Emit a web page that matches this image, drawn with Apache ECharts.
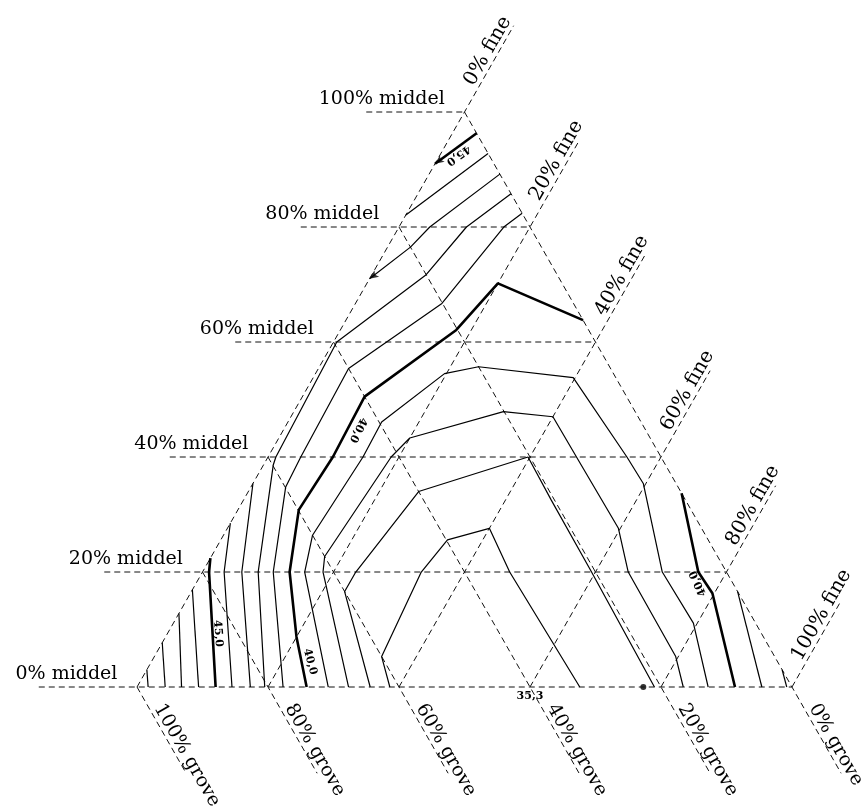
<!DOCTYPE html>
<html>
<head>
<meta charset="utf-8">
<script src="https://cdn.jsdelivr.net/npm/echarts@6/dist/echarts.min.js"></script>
<style>
html, body { margin: 0; padding: 0; background: #fff; }
#chart { width: 865px; height: 810px; }
</style>
</head>
<body>
<div id="chart"></div>
<script>
// ternary diagram grove / middel / fine, every point is [fine %, middel %]
const ticks = [0, 20, 40, 60, 80, 100];

// iso lines (value in the name)
const iso45a = [[0, 91], [3.7, 96.3]];
const iso45b = [[0, 22.4], [1, 20], [12, 0]];
const iso46 = [[0, 16.9], [9.4, 0]];
const iso47 = [[0, 12.8], [6.8, 0]];
const iso48 = [[0, 7.7], [4.3, 0]];
const iso49 = [[0, 3], [1.7, 0]];
const iso44a = [[7.2, 92.8], [0, 82.1]];
const iso44b = [[0, 28.5], [3.3, 20], [14.5, 0]];
const iso43a = [[10.8, 89.2], [4.7, 80], [3.5, 76.5], [0, 71]];
const iso43b = [[0, 35.4], [6, 20], [17.3, 0]];
const iso42a = [[14.2, 85.8], [10.3, 80], [8.3, 71.7], [0.5, 60], [1.2, 40], [1.5, 38.6], [8.5, 20], [19.5, 0]];
const iso42b = [[97, 3], [99.2, 0]];
const iso41a = [[17.6, 82.4], [16, 80], [13.2, 66.7], [4.6, 55.4], [5, 40], [5.3, 34.8], [10.8, 20], [22.3, 0]];
const iso41b = [[83.4, 16.6], [95.4, 0]];
const iso40a = [[36.2, 63.8], [20, 70.2], [17.7, 62.1], [9.5, 50.5], [9.9, 40], [9.3, 30.8], [13.3, 20], [20, 8.7], [25.9, 0]];
const iso40b = [[66.3, 33.7], [75.7, 20], [79.7, 16.3], [91.3, 0]];
const iso39 = [[29.2, 0], [15.6, 20], [13.6, 26.4], [14.5, 40], [14.3, 46.1], [19.7, 54.5], [24.3, 55.7], [39.7, 53.8], [54.8, 40], [59.6, 35.4], [70.2, 20], [79.4, 11.1], [87.2, 0]];
const iso38 = [[32.3, 0], [20, 17.7], [18.4, 20], [17.3, 22.7], [18.8, 40], [20, 43.3], [32, 47.9], [40, 47], [47.1, 40], [59.7, 27.6], [65, 20], [79.6, 5.3], [83.4, 0]];
const iso37 = [[35.6, 0], [23.4, 16.6], [23.4, 20], [26, 34], [39.7, 40], [47, 32.5], [59.4, 20], [79, 0]];
const iso36 = [[38.6, 0], [34.7, 5.3], [33.4, 20], [34.6, 25.6], [40, 27.6], [46.9, 20], [67.6, 0]];

const thinLines = [iso46, iso47, iso48, iso49, iso44a, iso44b, iso43a, iso43b, iso42a, iso42b,
    iso41a, iso41b, iso39, iso38, iso37, iso36];
const thickLines = [iso45a, iso45b, iso40a, iso40b];

// value labels written on the lines
const isoText = ['45,0', '45,0', '40,0', '40,0', '40,0'];
const isoTextAt = [[2.8, 92.5], [7.7, 9.3], [11.4, 44.7], [24.2, 4.4], [76.7, 18]];
const minText = '35,3';
const minAt = [60, 0];
const dotAt = [[77.3, 0]];
const arrowAt = [[0, 91], [0, 71]];

const ext = 15; // grid lines run 15 % past the triangle

function xy(p) {
    return [p[0] + p[1] / 2, p[1]];
}

const chart = echarts.init(document.getElementById('chart'));

const dashed = { color: '#111', width: 1, type: [6, 4] };
const series = [];

function addLine(pts, style) {
    series.push({
        type: 'line',
        data: pts.map(xy),
        showSymbol: false,
        symbol: 'none',
        silent: true,
        animation: false,
        lineStyle: style
    });
}

ticks.forEach(t => {
    addLine([[-ext, t], [100 - t, t]], dashed);              // middel
    addLine([[t, 0], [t, 100 - t + ext]], dashed);           // fine
    addLine([[0, 100 - t], [100 - t + ext, -ext]], dashed);  // grove
});

thinLines.forEach(l => addLine(l, { color: '#000', width: 1.2 }));
thickLines.forEach(l => addLine(l, { color: '#000', width: 2.6 }));

series.push({
    type: 'scatter',
    data: dotAt.map(xy),
    symbolSize: 6,
    itemStyle: { color: '#000' },
    silent: true
});
series.push({
    type: 'scatter',
    data: arrowAt.map(xy),
    symbol: 'arrow',
    symbolSize: [6, 9],
    symbolRotate: 126,
    itemStyle: { color: '#000' },
    silent: true
});

// axis texts
const axisTexts = [];
ticks.forEach(t => {
    axisTexts.push({ text: t + '% middel', at: [-3, t], kind: 'm' });
    axisTexts.push({ text: t + '% fine', at: [t, 104 - t], kind: 'f' });
    axisTexts.push({ text: t + '% grove', at: [104 - t, -4], kind: 'g' });
});

const serif = '"DejaVu Serif", "Liberation Serif", serif';

series.push({
    type: 'custom',
    silent: true,
    data: axisTexts.map(d => xy(d.at)),
    renderItem(params, api) {
        const d = axisTexts[params.dataIndex];
        const p = api.coord([api.value(0), api.value(1)]);
        const a = api.coord([0, 0]), b = api.coord([50, 100]);
        const ang = Math.atan2(a[1] - b[1], b[0] - a[0]);
        let rot = 0, align = 'left', dy = 0;
        if (d.kind === 'm') { align = 'right'; dy = -3; }
        if (d.kind === 'f') rot = ang;
        if (d.kind === 'g') rot = -ang;
        return {
            type: 'text',
            x: p[0],
            y: p[1] + dy,
            rotation: rot,
            style: {
                text: d.text,
                fontSize: d.kind === 'f' ? 20 : 19,
                fontFamily: serif,
                fill: '#000',
                align: align,
                verticalAlign: 'bottom'
            }
        };
    }
});

const isoRot = [-144, -86, -117, -75, 115];

series.push({
    type: 'custom',
    silent: true,
    data: isoTextAt.map(xy),
    renderItem(params, api) {
        const i = params.dataIndex;
        const p = api.coord([api.value(0), api.value(1)]);
        return {
            type: 'text',
            x: p[0],
            y: p[1],
            rotation: isoRot[i] * Math.PI / 180,
            style: {
                text: isoText[i],
                fontSize: 11,
                fontWeight: 'bold',
                fontFamily: serif,
                fill: '#000',
                align: 'center',
                verticalAlign: 'middle'
            }
        };
    }
});

series.push({
    type: 'custom',
    silent: true,
    data: [xy(minAt)],
    renderItem(params, api) {
        const p = api.coord([api.value(0), api.value(1)]);
        return {
            type: 'text',
            x: p[0],
            y: p[1] + 4,
            style: {
                text: minText,
                fontSize: 11,
                fontWeight: 'bold',
                fontFamily: serif,
                fill: '#000',
                align: 'center',
                verticalAlign: 'top'
            }
        };
    }
});

chart.setOption({
    animation: false,
    backgroundColor: '#fff',
    grid: { left: 0, right: 0, top: 0, bottom: 0 },
    xAxis: { type: 'value', min: -20.92, max: 111.15, show: false },
    yAxis: { type: 'value', min: -21.39, max: 119.48, show: false },
    series: series
});
</script>
</body>
</html>
